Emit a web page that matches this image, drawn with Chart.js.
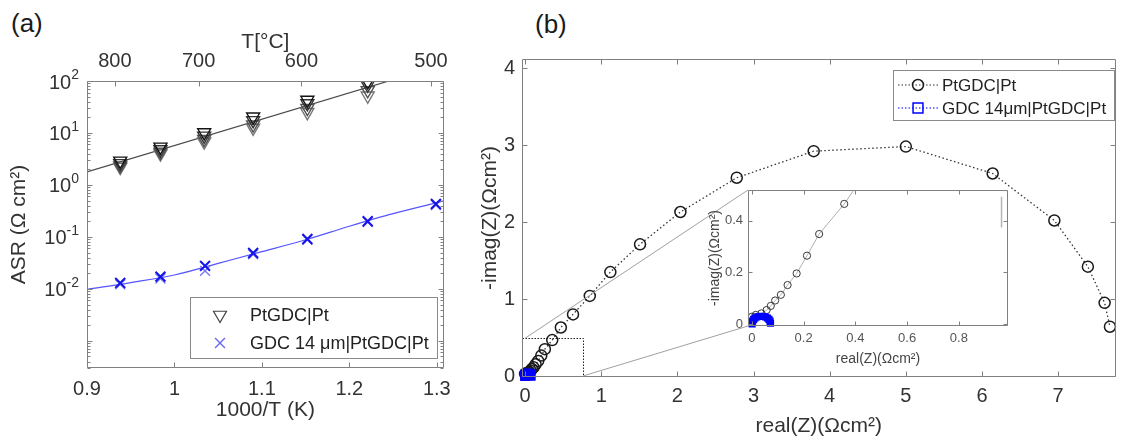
<!DOCTYPE html>
<html lang="en">
  <head>
    <meta charset="UTF-8" />
    <title>ASR vs 1000/T and impedance spectra</title>
    <script src="https://cdn.jsdelivr.net/npm/chart.js"></script>
    <style>
      body {
        margin: 0;
        width: 1121px;
        height: 446px;
        overflow: hidden;
        position: relative;
        background: #fff;
        font-family: "Liberation Sans", Arial, sans-serif;
        color: #1a1a1a;
      }
      canvas {
        position: absolute;
        top: 0;
      }
      .tag {
        position: absolute;
        font-size: 26px;
        line-height: 26px;
      }
    </style>
  </head>
  <body>
    <div class="tag" style="left: 11px; top: 10px">(a)</div>
    <div class="tag" style="left: 535px; top: 11px">(b)</div>
    <canvas id="asrChart" width="460" height="446" style="left: 0"></canvas>
    <canvas id="nyquistChart" width="663" height="446" style="left: 460px"></canvas>
    <canvas id="insetChart" width="663" height="446" style="left: 460px"></canvas>

    <script>
      // ---- (a) ASR vs 1000/T
      var invT = [0.938, 0.984, 1.034, 1.09, 1.152, 1.221];
      var asrPtRun1 = [2.9, 5.4, 10.2, 20.5, 43, 97];
      var asrPtRun2 = [2.6, 4.8, 8.8, 17.5, 37, 84];
      var asrPtRun3 = [2.35, 4.3, 7.6, 14.5, 30, 66];
      var asrPtRun4 = [2.2, 4.0, 6.8, 12.5, 25, 52];
      var invTGdc = [0.938, 0.984, 1.035, 1.09, 1.152, 1.221, 1.299];
      var asrGdcRun1 = [0.013, 0.0172, 0.0277, 0.049, 0.091, 0.2, 0.43];
      var asrGdcRun2 = [0.0122, 0.0158, 0.0222, 0.046, 0.088, 0.193, 0.41];
      var fitPtX = [0.9, 1.25];
      var fitPtY = [1.78, 106];
      var fitGdcX = [0.9, 0.95, 1.0, 1.05, 1.1, 1.15, 1.2, 1.25, 1.31];
      var fitGdcY = [0.0098, 0.0132, 0.0185, 0.031, 0.052, 0.088, 0.16, 0.28, 0.5];
      var xTicksA = [0.9, 1.0, 1.1, 1.2, 1.3];
      var topTicksC = [800, 700, 600, 500];
      var yExpA = [-2, -1, 0, 1, 2];

      // ---- (b) Nyquist plot
      var ptRe = [0.0, 0.015, 0.037, 0.057, 0.073, 0.09, 0.112, 0.138, 0.173, 0.213, 0.26, 0.357, 0.47,
        0.63, 0.85, 1.12, 1.51, 2.04, 2.78, 3.79, 5.0, 6.14, 6.95, 7.39, 7.61, 7.68];
      var ptIm = [0.028, 0.035, 0.041, 0.054, 0.07, 0.091, 0.113, 0.151, 0.196, 0.265, 0.349, 0.466, 0.63,
        0.8, 1.04, 1.35, 1.71, 2.13, 2.575, 2.92, 2.98, 2.63, 2.02, 1.42, 0.95, 0.64];
      var gdcRe = [0.001, 0.003, 0.007, 0.012, 0.019, 0.027, 0.036, 0.045, 0.053, 0.06, 0.066, 0.07, 0.072];
      var gdcIm = [0.0, 0.011, 0.018, 0.023, 0.027, 0.029, 0.03, 0.029, 0.027, 0.023, 0.018, 0.011, 0.003];
      var xTicksB = [0, 1, 2, 3, 4, 5, 6, 7];
      var yTicksB = [0, 1, 2, 3, 4];
      var xTicksInset = [0, 0.2, 0.4, 0.6, 0.8];
      var yTicksInset = [0, 0.2, 0.4];
      var zoomBox = { x0: -0.04, x1: 0.76, y0: 0, y1: 0.49 };
      var insetMarkX = [0.965, 0.965];
      var insetMarkY = [0.494, 0.374];

      var fontFam = '"Liberation Sans", Arial, Helvetica, sans-serif';
      var ink = "#333";
      var frameGray = "#808080";
      Chart.defaults.font.family = fontFam;
      Chart.defaults.color = ink;

      function xy(xs, ys) {
        return xs.map(function (x, i) {
          return { x: x, y: ys[i] };
        });
      }

      function drawMarker(ctx, type, x, y, r, color, lw) {
        ctx.save();
        ctx.strokeStyle = color;
        ctx.lineWidth = lw;
        ctx.beginPath();
        if (type === "tri") {
          ctx.moveTo(x, y + r);
          ctx.lineTo(x - 0.866 * r, y - 0.5 * r);
          ctx.lineTo(x + 0.866 * r, y - 0.5 * r);
          ctx.closePath();
        } else if (type === "x") {
          var d = 0.707 * r;
          ctx.moveTo(x - d, y - d);
          ctx.lineTo(x + d, y + d);
          ctx.moveTo(x - d, y + d);
          ctx.lineTo(x + d, y - d);
        } else if (type === "circle") {
          ctx.arc(x, y, r, 0, Math.PI * 2);
        } else {
          var s = 0.707 * r;
          ctx.rect(x - s, y - s, 2 * s, 2 * s);
        }
        ctx.stroke();
        ctx.restore();
      }

      function drawLegend(ctx, box, rows, size) {
        ctx.save();
        ctx.fillStyle = "#fff";
        ctx.fillRect(box.x, box.y, box.w, box.h);
        ctx.strokeStyle = "#8a8a8a";
        ctx.lineWidth = 1;
        ctx.strokeRect(box.x + 0.5, box.y + 0.5, box.w, box.h);
        ctx.font = size + "px " + fontFam;
        ctx.textBaseline = "middle";
        rows.forEach(function (r) {
          if (r.line) {
            ctx.save();
            ctx.strokeStyle = r.line;
            ctx.lineWidth = 1.2;
            ctx.setLineDash([1.5, 2]);
            ctx.beginPath();
            ctx.moveTo(r.lx0, r.y);
            ctx.lineTo(r.lx1, r.y);
            ctx.stroke();
            ctx.restore();
          }
          drawMarker(ctx, r.marker, r.mx, r.y, r.r, r.color, r.lw);
          ctx.fillStyle = "#222";
          ctx.fillText(r.text, r.tx, r.y + 1);
        });
        ctx.restore();
      }

      // frame with inward ticks, MATLAB style
      function boxPlugin(cfg) {
        return {
          id: "box",
          beforeDraw: function (chart) {
            var ctx = chart.ctx, a = chart.chartArea;
            if (cfg.under) cfg.under(chart);
            if (cfg.fillWhite) {
              ctx.save();
              ctx.fillStyle = "#fff";
              ctx.fillRect(a.left, a.top, a.right - a.left, a.bottom - a.top);
              ctx.restore();
            }
          },
          beforeDatasetsDraw: function (chart) {
            if (cfg.behind) cfg.behind(chart);
          },
          afterDatasetsDraw: function (chart) {
            var ctx = chart.ctx, a = chart.chartArea;
            var L = Math.round(a.left) + 0.5, R = Math.round(a.right) - 0.5;
            var T = Math.round(a.top) + 0.5, B = Math.round(a.bottom) - 0.5;
            var len = cfg.tickLen;
            ctx.save();
            ctx.strokeStyle = cfg.color;
            ctx.lineWidth = 1;
            ctx.beginPath();
            ctx.rect(L, T, R - L, B - T);
            cfg.bottom.forEach(function (v) {
              var p = Math.round(chart.scales.x.getPixelForValue(v)) + 0.5;
              ctx.moveTo(p, B);
              ctx.lineTo(p, B - len);
            });
            cfg.top.forEach(function (v) {
              var p = Math.round(chart.scales[cfg.topId].getPixelForValue(v)) + 0.5;
              ctx.moveTo(p, T);
              ctx.lineTo(p, T + len);
            });
            cfg.side.forEach(function (v) {
              var p = Math.round(chart.scales.y.getPixelForValue(v)) + 0.5;
              ctx.moveTo(L, p);
              ctx.lineTo(L + len, p);
              ctx.moveTo(R, p);
              ctx.lineTo(R - len, p);
            });
            (cfg.minor || []).forEach(function (v) {
              var p = Math.round(chart.scales.y.getPixelForValue(v)) + 0.5;
              ctx.moveTo(L, p);
              ctx.lineTo(L + 3, p);
              ctx.moveTo(R, p);
              ctx.lineTo(R - 3, p);
            });
            ctx.stroke();
            ctx.restore();
            if (cfg.over) cfg.over(chart);
          },
        };
      }

      function fixedTicks(list) {
        return function (scale) {
          scale.ticks = list.map(function (v) {
            return { value: v };
          });
        };
      }

      var baseOpts = {
        responsive: false,
        animation: false,
        events: [],
        plugins: { legend: { display: false }, tooltip: { enabled: false } },
      };
      var noGrid = { display: false, drawTicks: false };

      // ================= (a) =================
      var minorA = [];
      for (var e = -4; e <= 1; e++) {
        for (var k = 2; k <= 9; k++) {
          var mv = k * Math.pow(10, e);
          if (mv > 3e-4 && mv < 100) minorA.push(mv);
        }
      }

      var ptStyle = function (color, data) {
        return {
          data: data,
          showLine: false,
          pointStyle: "triangle",
          rotation: 180,
          pointRadius: 7.5,
          pointBorderWidth: 1.4,
          borderColor: color,
          pointBackgroundColor: "rgba(0,0,0,0)",
        };
      };

      var asrChart = new Chart(document.getElementById("asrChart"), {
        type: "scatter",
        data: {
          datasets: [
            ptStyle("#141414", xy(invT, asrPtRun1)),
            ptStyle("#343434", xy(invT, asrPtRun2)),
            ptStyle("#555555", xy(invT, asrPtRun3)),
            ptStyle("#767676", xy(invT, asrPtRun4)),
            {
              data: xy(invTGdc, asrGdcRun1),
              showLine: false,
              pointStyle: "crossRot",
              pointRadius: 7,
              pointBorderWidth: 2,
              borderColor: "#1414e6",
            },
            {
              data: xy(invTGdc, asrGdcRun2),
              showLine: false,
              pointStyle: "crossRot",
              pointRadius: 7,
              pointBorderWidth: 1.4,
              borderColor: "#7a7af2",
            },
            {
              data: xy(fitPtX, fitPtY),
              showLine: true,
              pointRadius: 0,
              borderColor: "#4a4a4a",
              borderWidth: 1.2,
            },
            {
              data: xy(fitGdcX, fitGdcY),
              showLine: true,
              pointRadius: 0,
              borderColor: "#5555ff",
              borderWidth: 1.2,
              cubicInterpolationMode: "monotone",
            },
          ],
        },
        options: Object.assign({}, baseOpts, {
          layout: { padding: { left: 0, right: 12, top: 0, bottom: 0 } },
          scales: {
            x: {
              type: "linear",
              position: "bottom",
              min: 0.9,
              max: 1.308,
              grid: noGrid,
              border: { display: false },
              afterBuildTicks: fixedTicks(xTicksA),
              afterFit: function (s) {
                s.height = 78;
              },
              ticks: {
                padding: 9,
                font: { size: 20 },
                color: ink,
                callback: function (v) {
                  return String(v);
                },
              },
              title: {
                display: true,
                text: "1000/T (K)",
                font: { size: 21 },
                color: ink,
                padding: { top: 0, bottom: 23 },
              },
            },
            x2: {
              type: "linear",
              axis: "x",
              position: "top",
              min: 0.9,
              max: 1.308,
              grid: noGrid,
              border: { display: false },
              afterBuildTicks: function (s) {
                s.ticks = topTicksC.map(function (t) {
                  return { value: 1000 / (t + 273.15) };
                });
              },
              afterFit: function (s) {
                s.height = 81;
              },
              ticks: {
                padding: 8,
                font: { size: 20 },
                color: ink,
                callback: function (v, i) {
                  return String(topTicksC[i]);
                },
              },
              title: {
                display: true,
                text: "T[°C]",
                font: { size: 21 },
                color: ink,
                padding: { top: 30, bottom: 0 },
              },
            },
            y: {
              type: "logarithmic",
              min: 3e-4,
              max: 100,
              grid: noGrid,
              border: { display: false },
              ticks: { display: false },
              afterFit: function (s) {
                s.width = 87;
              },
              title: {
                display: true,
                text: "ASR (Ω cm²)",
                font: { size: 21 },
                color: ink,
                padding: { top: 7, bottom: 0 },
              },
            },
          },
        }),
        plugins: [
          boxPlugin({
            color: frameGray,
            tickLen: 5,
            topId: "x2",
            bottom: xTicksA,
            top: topTicksC.map(function (t) {
              return 1000 / (t + 273.15);
            }),
            side: [1e-3, 1e-2, 1e-1, 1, 10, 100],
            minor: minorA,
            over: function (chart) {
              var ctx = chart.ctx;
              var ys = chart.scales.y;
              ctx.save();
              ctx.fillStyle = ink;
              ctx.textBaseline = "middle";
              yExpA.forEach(function (ex) {
                var p = ys.getPixelForValue(Math.pow(10, ex));
                var sup = String(ex);
                ctx.font = "14px " + fontFam;
                var w = ctx.measureText(sup).width;
                ctx.textAlign = "right";
                ctx.fillText(sup, 79, p - 6);
                ctx.font = "20px " + fontFam;
                ctx.fillText("10", 79 - w, p + 2);
              });
              ctx.restore();
              drawLegend(
                ctx,
                { x: 190, y: 297, w: 247, h: 61 },
                [
                  { marker: "tri", mx: 220, y: 315, r: 7.5, color: "#444", lw: 1.2, tx: 250, text: "PtGDC|Pt" },
                  { marker: "x", mx: 220, y: 343, r: 7, color: "#6a6af0", lw: 1.4, tx: 250, text: "GDC 14 μm|PtGDC|Pt" },
                ],
                18
              );
            },
          }),
        ],
      });

      // ================= (b) main =================
      var nyquistChart = new Chart(document.getElementById("nyquistChart"), {
        type: "scatter",
        data: {
          datasets: [
            {
              data: xy(gdcRe, gdcIm),
              showLine: true,
              borderColor: "#0000ff",
              borderWidth: 1,
              borderDash: [1.5, 2],
              pointStyle: "rect",
              pointRadius: 6,
              pointBorderWidth: 1.5,
              pointBorderColor: "#0000ff",
              pointBackgroundColor: "#0000ff",
              clip: false,
            },
            {
              data: xy(ptRe, ptIm),
              showLine: true,
              borderColor: "#333",
              borderWidth: 1.3,
              borderDash: [1.5, 2.5],
              pointStyle: "circle",
              pointRadius: 5.5,
              pointBorderWidth: 1.5,
              pointBorderColor: "#1a1a1a",
              pointBackgroundColor: "rgba(0,0,0,0)",
              clip: false,
            },
          ],
        },
        options: Object.assign({}, baseOpts, {
          layout: { padding: { left: 0, right: 1, top: 59, bottom: 0 } },
          scales: {
            x: {
              type: "linear",
              min: -0.04,
              max: 7.753,
              grid: noGrid,
              border: { display: false },
              afterBuildTicks: fixedTicks(xTicksB),
              afterFit: function (s) {
                s.height = 69;
              },
              ticks: { padding: 7, font: { size: 20 }, color: ink },
              title: {
                display: true,
                text: "real(Z)(Ωcm²)",
                font: { size: 21 },
                color: ink,
                padding: { top: 0, bottom: 7 },
              },
            },
            y: {
              type: "linear",
              min: -0.013,
              max: 4.117,
              grid: noGrid,
              border: { display: false },
              afterBuildTicks: fixedTicks(yTicksB),
              afterFit: function (s) {
                s.width = 62;
              },
              ticks: { padding: 7, font: { size: 20 }, color: ink },
              title: {
                display: true,
                text: "-imag(Z)(Ωcm²)",
                font: { size: 21 },
                color: ink,
                padding: { top: 18, bottom: 0 },
              },
            },
          },
        }),
        plugins: [
          boxPlugin({
            color: frameGray,
            tickLen: 5,
            topId: "x",
            bottom: xTicksB,
            top: xTicksB,
            side: yTicksB,
            behind: function (chart) {
              var ctx = chart.ctx, sx = chart.scales.x, sy = chart.scales.y;
              var x0 = Math.round(sx.getPixelForValue(zoomBox.x0)) + 0.5;
              var x1 = Math.round(sx.getPixelForValue(zoomBox.x1)) + 0.5;
              var y0 = Math.round(sy.getPixelForValue(zoomBox.y0)) + 0.5;
              var y1 = Math.round(sy.getPixelForValue(zoomBox.y1)) + 0.5;
              ctx.save();
              ctx.strokeStyle = "#222";
              ctx.lineWidth = 1;
              ctx.setLineDash([1.5, 1.5]);
              ctx.strokeRect(x0, y1, x1 - x0, y0 - y1);
              ctx.restore();
            },
            over: function (chart) {
              drawLegend(
                chart.ctx,
                { x: 433, y: 70, w: 221, h: 50 },
                [
                  { line: "#333", lx0: 438, lx1: 479, marker: "circle", mx: 458, y: 85, r: 5.5, color: "#1a1a1a", lw: 1.5, tx: 482, text: "PtGDC|Pt" },
                  { line: "#0000ff", lx0: 438, lx1: 479, marker: "rect", mx: 458, y: 108, r: 7, color: "#0000ff", lw: 1.5, tx: 482, text: "GDC 14μm|PtGDC|Pt" },
                ],
                17
              );
            },
          }),
        ],
      });

      // ================= (b) inset =================
      var insetChart = new Chart(document.getElementById("insetChart"), {
        type: "scatter",
        data: {
          datasets: [
            {
              data: xy(gdcRe, gdcIm),
              showLine: false,
              pointStyle: "rect",
              pointRadius: 4,
              pointBorderWidth: 1.5,
              pointBorderColor: "#0000ff",
              pointBackgroundColor: "#0000ff",
              clip: false,
            },
            {
              data: xy(ptRe, ptIm),
              showLine: true,
              borderColor: "#b0b0b0",
              borderWidth: 1,
              pointStyle: "circle",
              pointRadius: 3.6,
              pointBorderWidth: 1,
              pointBorderColor: "#3a3a3a",
              pointBackgroundColor: "rgba(0,0,0,0)",
            },
            {
              data: xy(insetMarkX, insetMarkY),
              showLine: true,
              pointRadius: 0,
              borderColor: "#b5b5b5",
              borderWidth: 1.5,
            },
          ],
        },
        options: Object.assign({}, baseOpts, {
          layout: { padding: { left: 240, right: 115, top: 190, bottom: 76 } },
          scales: {
            x: {
              type: "linear",
              min: -0.015,
              max: 0.99,
              grid: noGrid,
              border: { display: false },
              afterBuildTicks: fixedTicks(xTicksInset),
              afterFit: function (s) {
                s.height = 44;
              },
              ticks: {
                padding: 5,
                font: { size: 13 },
                color: "#555",
                callback: function (v) {
                  return v === 0 ? "0" : v.toFixed(1);
                },
              },
              title: {
                display: true,
                text: "real(Z)(Ωcm²)",
                font: { size: 14 },
                color: "#444",
                padding: { top: 0, bottom: 2 },
              },
            },
            y: {
              type: "linear",
              min: -0.008,
              max: 0.52,
              grid: noGrid,
              border: { display: false },
              afterBuildTicks: fixedTicks(yTicksInset),
              afterFit: function (s) {
                s.width = 48;
              },
              ticks: {
                padding: 5,
                font: { size: 13 },
                color: "#555",
                callback: function (v) {
                  return v === 0 ? "0" : v.toFixed(1);
                },
              },
              title: {
                display: true,
                text: "-imag(Z)(Ωcm²)",
                font: { size: 14 },
                color: "#444",
                padding: { top: 7, bottom: 0 },
              },
            },
          },
        }),
        plugins: [
          boxPlugin({
            color: frameGray,
            tickLen: 4,
            topId: "x",
            bottom: xTicksInset,
            top: xTicksInset,
            side: yTicksInset,
            fillWhite: true,
            under: function (chart) {
              var ctx = chart.ctx, a = chart.chartArea;
              var sx = nyquistChart.scales.x, sy = nyquistChart.scales.y;
              ctx.save();
              ctx.strokeStyle = "#a0a0a0";
              ctx.lineWidth = 1;
              ctx.beginPath();
              ctx.moveTo(sx.getPixelForValue(0), sy.getPixelForValue(zoomBox.y1));
              ctx.lineTo(a.left, a.top);
              ctx.moveTo(sx.getPixelForValue(zoomBox.x1), sy.getPixelForValue(zoomBox.y0));
              ctx.lineTo(a.left, a.bottom);
              ctx.stroke();
              ctx.restore();
            },
          }),
        ],
      });
    </script>
  </body>
</html>
